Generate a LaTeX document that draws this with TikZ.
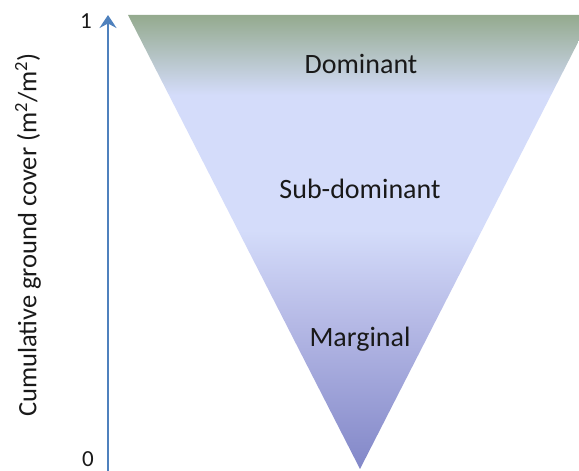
\documentclass[tikz,border=0pt]{standalone}
\usepackage{fontspec}
\setmainfont{Carlito}
\usetikzlibrary{arrows.meta}
\definecolor{axisblue}{RGB}{79,129,189}
\definecolor{topgreen}{RGB}{148,170,142}
\definecolor{paleblue}{RGB}{212,220,250}
\definecolor{midlilac}{RGB}{182,186,230}
\definecolor{deeplilac}{RGB}{130,135,200}
\pgfdeclareverticalshading{covershade}{100bp}{
  color(0bp)=(deeplilac); color(25bp)=(deeplilac); color(41.4bp)=(midlilac);
  color(51.3bp)=(paleblue); color(66.2bp)=(paleblue); color(75bp)=(topgreen);
  color(100bp)=(topgreen)}
\tikzset{
  axisline/.style={axisblue,line width=2.6pt,-{Stealth[length=13pt,width=17pt,inset=4.5pt]}},
  tick/.style={font=\fontsize{23}{26}\selectfont,text=black!90},
  classlab/.style={font=\fontsize{28}{32}\selectfont,text=black!90},
  axislab/.style={font=\fontsize{26.5}{30}\selectfont,text=black!90,rotate=90},
}

\begin{document}
\begin{tikzpicture}[x=1pt,y=1pt]
  \path[use as bounding box] (0,0) rectangle (579,471);
  \begin{scope}
    \clip (0,0) rectangle (579,471);
    \path[shading=covershade] (128,456) -- (592,456) -- (360,2) -- cycle;
  \end{scope}

  \coordinate (base) at (108,0);
  \coordinate (top) at (108,456);
  \draw[axisline] (base) -- (top);
  \node[tick] (one) at (86,450) {1};
  \node[tick] (zero) at (88,12) {0};
  \node[axislab] (ylab) at (28,236) {Cumulative ground cover (m\textsuperscript{2}/m\textsuperscript{2})};

  \node[classlab] (dom) at (361,407) {Dominant};
  \node[classlab] (sub) at (360,282) {Sub-dominant};
  \node[classlab] (marg) at (360,132) {Marginal};
\end{tikzpicture}
\end{document}
